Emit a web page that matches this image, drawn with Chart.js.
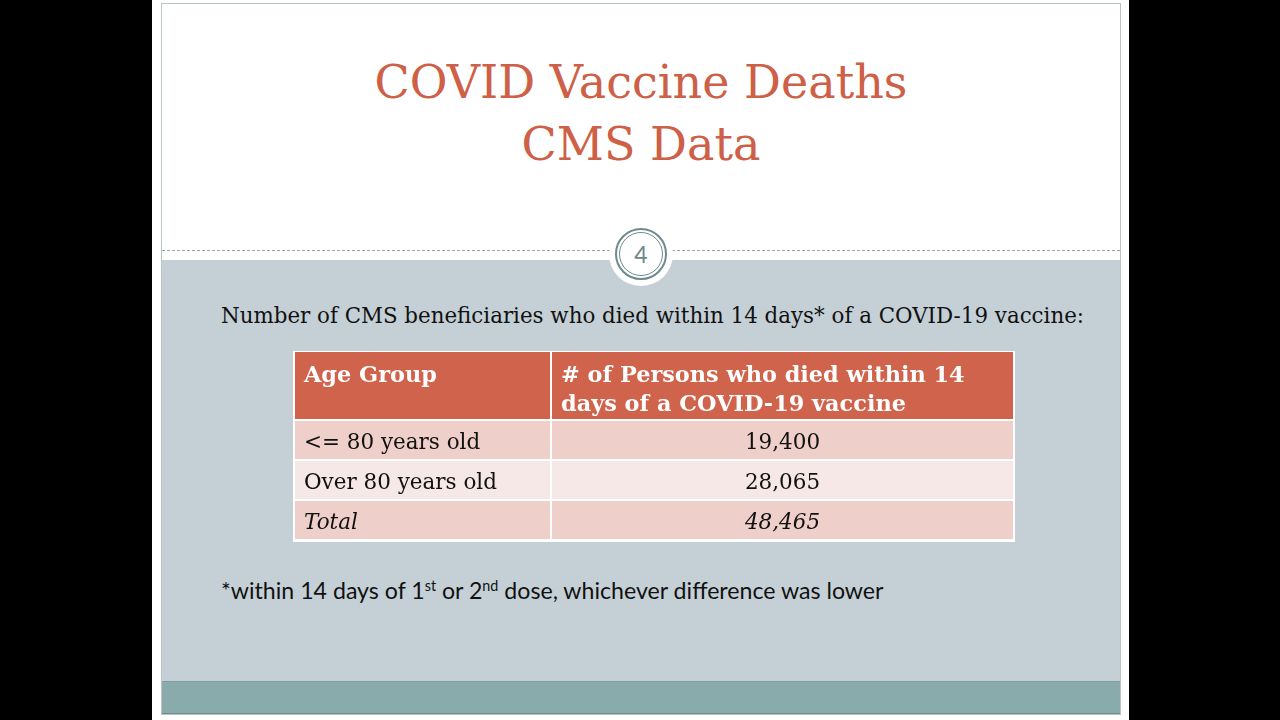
<!DOCTYPE html>
<html><head><meta charset="utf-8">
<script src="https://cdn.jsdelivr.net/npm/chart.js@4.4.1/dist/chart.umd.min.js"></script>
<style>
html,body{margin:0;padding:0;background:#000;width:1280px;height:720px;overflow:hidden}
#slide{position:absolute;left:152px;top:0;width:977px;height:720px;background:#fff}
#frame{position:absolute;left:161px;top:3px;width:960px;height:712px;border:1px solid #b9c4c7;box-sizing:border-box}
#band{position:absolute;left:162px;top:260px;width:958px;height:421px;background:#c5d0d6}
#foot{position:absolute;left:162px;top:681px;width:958px;height:33px;background:#89abab;border-top:1px solid #7d9e9f;border-bottom:1px solid #6f8f8f;box-sizing:border-box}
#dash{position:absolute;left:162px;top:250px;width:958px;height:0;border-top:1px dashed #9aa4a8}
#halo{position:absolute;left:609px;top:222px;width:64px;height:64px;border-radius:50%;background:#fff}
#ring1{position:absolute;left:615px;top:228px;width:52px;height:52px;border-radius:50%;border:2px solid #6f8a8d;box-sizing:border-box}
#ring2{position:absolute;left:619px;top:232px;width:44px;height:44px;border-radius:50%;border:1.5px solid #6f8a8d;box-sizing:border-box}
.t{position:absolute;white-space:nowrap;line-height:1.2}
#title1,#title2{font-family:"DejaVu Serif",serif;color:#cd6046;font-size:50px}
#intro{font-family:"DejaVu Serif",serif;color:#111;font-size:22px}
#note{font-family:Lato,"Open Sans",sans-serif;color:#111;font-size:21px}
#note sup{font-size:0.62em;vertical-align:0.55em;line-height:0}
#pg{font-family:Lato,"Open Sans",sans-serif;font-weight:400;color:#6d878a;font-size:23px}
#tbl{position:absolute;left:293px;top:350px}
</style></head>
<body>
<div id="slide"></div>
<div id="frame"></div>
<div id="band"></div>
<div id="foot"></div>
<div id="dash"></div>
<div id="halo"></div>
<div id="ring1"></div>
<div id="ring2"></div>
<div class="t" id="title1">COVID Vaccine Deaths</div>
<div class="t" id="title2">CMS Data</div>
<div class="t" id="pg">4</div>
<div class="t" id="intro">Number of CMS beneficiaries who died within 14 days* of a COVID-19 vaccine:</div>
<div class="t" id="note">*within 14 days of 1<sup>st</sup> or 2<sup>nd</sup> dose, whichever difference was lower</div>
<canvas id="tbl" width="722" height="192" style="width:722px;height:192px"></canvas>
<script>
// ---- data ----
const ageGroups = ['<= 80 years old', 'Over 80 years old', 'Total'];
const deaths = [19400, 28065, 48465];
const headerAge = ['Age Group'];
const headerDeaths = ['# of Persons who died within 14', 'days of a COVID-19 vaccine'];

// ---- layout helpers ----
function place(id, x, baseline, align, targetWidth) {
  const el = document.getElementById(id);
  el.style.left = '0px'; el.style.top = '0px';
  if (targetWidth) {
    const w0 = el.getBoundingClientRect().width;
    el.style.fontSize = (parseFloat(getComputedStyle(el).fontSize) * targetWidth / w0) + 'px';
  }
  const m = document.createElement('span');
  m.style.cssText = 'display:inline-block;width:0;height:0;';
  el.appendChild(m);
  const b = m.getBoundingClientRect().bottom;
  el.style.top = (baseline - b) + 'px';
  const w = el.getBoundingClientRect().width;
  el.style.left = (align === 'center' ? x - w / 2 : x) + 'px';
}
place('title1', 641, 98, 'center', 533);
document.getElementById('title2').style.fontSize = document.getElementById('title1').style.fontSize;
place('title2', 641, 160, 'center');
place('pg', 641, 263, 'center');
place('intro', 221, 323, 'left', 864);
place('note', 221, 599, 'left', 663);

// ---- table via Chart.js ----
const COL_SPLIT = 257 / 720;
const HEADER_FILL = '#cf634b';
const ROW_FILLS = ['#eecfca', '#f6e8e7', '#eecfca'];
const SERIF = '"DejaVu Serif", serif';

function fitSize(ctx, font, text, target) {
  ctx.font = font.replace('SIZE', '100px');
  return 100 * target / ctx.measureText(text).width;
}

const tablePlugin = {
  id: 'tableText',
  beforeDatasetsDraw(chart) {
    const ctx = chart.ctx, a = chart.chartArea, xs = chart.scales.x;
    const split = xs.getPixelForValue(COL_SPLIT);
    ctx.save();
    ctx.fillStyle = '#ffffff';
    ctx.fillRect(0, 1, chart.width, chart.height - 1);
    ctx.fillStyle = HEADER_FILL;
    ctx.fillRect(a.left + 1, 2, split - a.left - 2, a.top - 3);
    ctx.fillRect(split + 1, 2, a.right - split - 2, a.top - 3);
    ctx.restore();
  },
  afterDatasetsDraw(chart) {
    const ctx = chart.ctx, a = chart.chartArea, xs = chart.scales.x;
    const split = xs.getPixelForValue(COL_SPLIT);
    ctx.save();
    const hs = fitSize(ctx, 'bold SIZE ' + SERIF, headerDeaths[0], 404);
    ctx.font = 'bold ' + hs + 'px ' + SERIF;
    ctx.fillStyle = '#ffffff';
    ctx.textBaseline = 'alphabetic';
    ctx.textAlign = 'left';
    headerAge.forEach((t, i) => ctx.fillText(t, a.left + 10, 32 + i * 29));
    headerDeaths.forEach((t, i) => ctx.fillText(t, split + 10, 32 + i * 29));
    const bs = fitSize(ctx, 'SIZE ' + SERIF, ageGroups[1], 193);
    const m0 = chart.getDatasetMeta(0).data;
    const m1 = chart.getDatasetMeta(1).data;
    ctx.fillStyle = '#111111';
    ageGroups.forEach((g, i) => {
      const italic = i === ageGroups.length - 1 ? 'italic ' : '';
      ctx.font = italic + bs + 'px ' + SERIF;
      const el0 = m0[i], el1 = m1[i];
      const by = el0.y + 9;
      ctx.textAlign = 'left';
      ctx.fillText(g, Math.min(el0.base, el0.x) + 10, by);
      ctx.textAlign = 'center';
      ctx.fillText(deaths[i].toLocaleString('en-US'), (el1.base + el1.x) / 2, by);
    });
    ctx.restore();
  }
};

const cellStyle = {
  backgroundColor: ROW_FILLS,
  borderColor: '#ffffff',
  borderWidth: 1,
  borderSkipped: false,
  inflateAmount: 0,
  grouped: false,
  barPercentage: 1,
  categoryPercentage: 1
};

new Chart(document.getElementById('tbl'), {
  type: 'bar',
  data: {
    labels: ageGroups,
    datasets: [
      Object.assign({ label: headerAge.join(' '), data: ageGroups.map(() => [0, COL_SPLIT]) }, cellStyle),
      Object.assign({ label: headerDeaths.join(' '), data: deaths.map(() => [COL_SPLIT, 1]) }, cellStyle)
    ]
  },
  options: {
    indexAxis: 'y',
    responsive: false,
    animation: false,
    devicePixelRatio: 1,
    events: [],
    layout: { padding: { top: 70, left: 1, right: 1, bottom: 2 } },
    scales: {
      x: { type: 'linear', min: 0, max: 1, display: false },
      y: { type: 'category', display: false }
    },
    plugins: { legend: { display: false }, tooltip: { enabled: false }, colors: { enabled: false } }
  },
  plugins: [tablePlugin]
});
</script>
</body></html>
